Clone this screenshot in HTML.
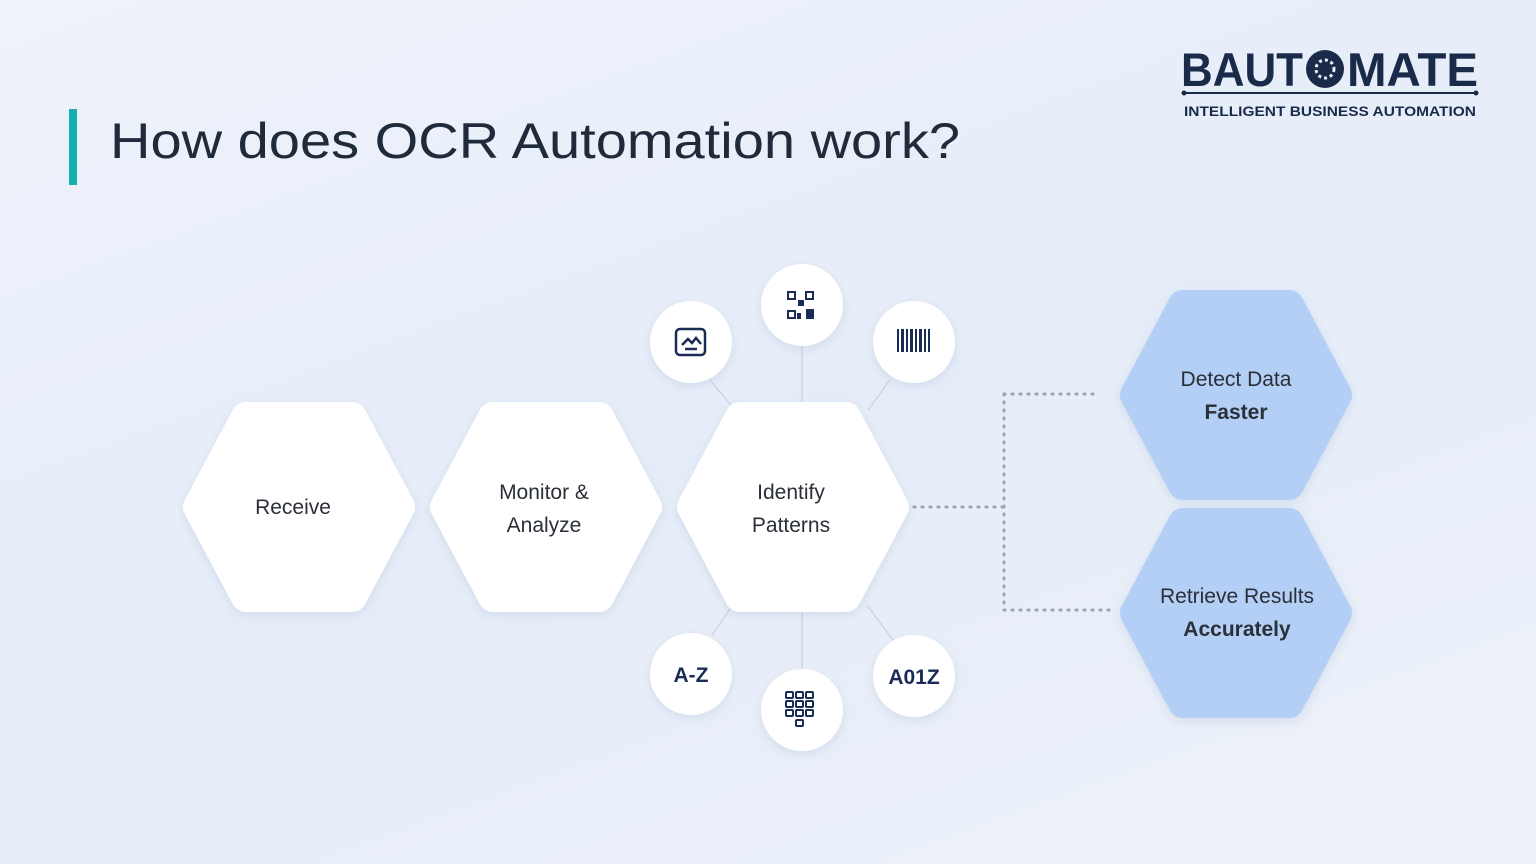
<!DOCTYPE html>
<html><head><meta charset="utf-8"><style>
html,body{margin:0;padding:0}
body{width:1536px;height:864px;overflow:hidden;background:linear-gradient(160deg,#eef2fa 0%,#e6edf9 50%,#edf1f9 100%);font-family:"Liberation Sans",sans-serif;position:relative}
svg{position:absolute;left:0;top:0}
</style></head><body>
<svg width="1536" height="864" viewBox="0 0 1536 864" xmlns="http://www.w3.org/2000/svg">
<defs>
<filter id="sh" x="-30%" y="-30%" width="160%" height="160%"><feDropShadow dx="0" dy="3" stdDeviation="5" flood-color="#8da0c0" flood-opacity="0.25"/></filter>
<g id="hex"><polygon points="-101,0 -53,-90 53,-90 101,0 53,90 -53,90" stroke-linejoin="round" stroke-width="30"/></g>
</defs>
<rect x="69" y="109" width="8" height="76" fill="#17aeb0"/>
<text x="110" y="158" font-size="50" fill="#1f2a3a" textLength="850" lengthAdjust="spacingAndGlyphs" font-family="Liberation Sans, sans-serif">How does OCR Automation work?</text>

<!-- logo -->
<text x="1181" y="86" font-size="47" font-weight="bold" fill="#1a2b4a" textLength="122" lengthAdjust="spacingAndGlyphs">BAUT</text>
<circle cx="1325" cy="69" r="19" fill="#1a2b4a"/>
<circle cx="1325" cy="69" r="9" fill="none" stroke="#e9eef8" stroke-width="3" stroke-dasharray="3 3"/>
<text x="1347" y="86" font-size="47" font-weight="bold" fill="#1a2b4a" textLength="131" lengthAdjust="spacingAndGlyphs">MATE</text>
<line x1="1184" y1="93" x2="1476" y2="93" stroke="#1a2b4a" stroke-width="2"/>
<circle cx="1184" cy="93" r="2.5" fill="#1a2b4a"/><circle cx="1476" cy="93" r="2.5" fill="#1a2b4a"/>
<text x="1184" y="116" font-size="13.5" font-weight="bold" fill="#1a2b4a" textLength="292" lengthAdjust="spacingAndGlyphs">INTELLIGENT BUSINESS AUTOMATION</text>

<!-- connector lines -->
<g stroke="#c9d2e0" stroke-width="1.2">
<line x1="802" y1="346" x2="802" y2="404"/>
<line x1="710" y1="380" x2="735" y2="410"/>
<line x1="890" y1="380" x2="868" y2="410"/>
<line x1="802" y1="612" x2="802" y2="670"/>
<line x1="733" y1="605" x2="712" y2="635"/>
<line x1="867" y1="605" x2="893" y2="640"/>
</g>
<g stroke="#9aa3b0" stroke-width="3" stroke-dasharray="1 7" stroke-linecap="round" fill="none">
<line x1="914" y1="507" x2="1004" y2="507"/>
<line x1="1004" y1="394" x2="1004" y2="610"/>
<line x1="1004" y1="394" x2="1100" y2="394"/>
<line x1="1004" y1="610" x2="1110" y2="610"/>
</g>

<!-- hexes -->
<g fill="#fff" stroke="#fff" filter="url(#sh)">
<use href="#hex" transform="translate(299,507)"/>
<use href="#hex" transform="translate(546,507)"/>
<use href="#hex" transform="translate(793,507)"/>
</g>
<g fill="#b3cff5" stroke="#b3cff5" filter="url(#sh)">
<use href="#hex" transform="translate(1236,395)"/>
<use href="#hex" transform="translate(1236,613)"/>
</g>
<g font-size="21" fill="#2a2f38" text-anchor="middle">
<text x="293" y="514">Receive</text>
<text x="544" y="499">Monitor &amp;</text>
<text x="544" y="532">Analyze</text>
<text x="791" y="499">Identify</text>
<text x="791" y="532">Patterns</text>
<text x="1236" y="386">Detect Data</text>
<text x="1236" y="419" font-weight="bold">Faster</text>
<text x="1237" y="603">Retrieve Results</text>
<text x="1237" y="636" font-weight="bold">Accurately</text>
</g>

<!-- circles -->
<g fill="#fff" filter="url(#sh)">
<circle cx="691" cy="342" r="41"/>
<circle cx="802" cy="305" r="41"/>
<circle cx="914" cy="342" r="41"/>
<circle cx="691" cy="674" r="41"/>
<circle cx="802" cy="710" r="41"/>
<circle cx="914" cy="676" r="41"/>
</g>
<!-- icons -->
<g stroke="#1a2b55" fill="none" stroke-width="2.5">
<rect x="676" y="329" width="29" height="26" rx="4"/>
<polyline points="682,345 688,339 692,343 696,338 701,344"/>
<line x1="685" y1="349" x2="697" y2="349"/>
</g>
<g fill="#1a2b55">
<rect x="787" y="291" width="9" height="9"/><rect x="805" y="291" width="9" height="9"/><rect x="787" y="310" width="9" height="9"/>
<rect x="798" y="300" width="6" height="6"/><rect x="806" y="309" width="8" height="10"/><rect x="797" y="313" width="4" height="6"/>
<rect x="897" y="329" width="2" height="23"/><rect x="901" y="329" width="3" height="23"/><rect x="906" y="329" width="2" height="23"/><rect x="910" y="329" width="3" height="23"/><rect x="915" y="329" width="2" height="23"/><rect x="919" y="329" width="3" height="23"/><rect x="924" y="329" width="2" height="23"/><rect x="928" y="329" width="2" height="23"/>
</g>
<g fill="#fff"><rect x="789" y="293" width="5" height="5"/><rect x="807" y="293" width="5" height="5"/><rect x="789" y="312" width="5" height="5"/></g>
<g stroke="#1a2b55" stroke-width="2" fill="none">
<rect x="786" y="692" width="7" height="6" rx="1"/><rect x="796" y="692" width="7" height="6" rx="1"/><rect x="806" y="692" width="7" height="6" rx="1"/>
<rect x="786" y="701" width="7" height="6" rx="1"/><rect x="796" y="701" width="7" height="6" rx="1"/><rect x="806" y="701" width="7" height="6" rx="1"/>
<rect x="786" y="710" width="7" height="6" rx="1"/><rect x="796" y="710" width="7" height="6" rx="1"/><rect x="806" y="710" width="7" height="6" rx="1"/>
<rect x="796" y="720" width="7" height="6" rx="1"/>
</g>
<g font-size="21" font-weight="bold" fill="#1a2b55" text-anchor="middle">
<text x="691" y="682">A-Z</text>
<text x="914" y="684">A01Z</text>
</g>
</svg>
</body></html>
